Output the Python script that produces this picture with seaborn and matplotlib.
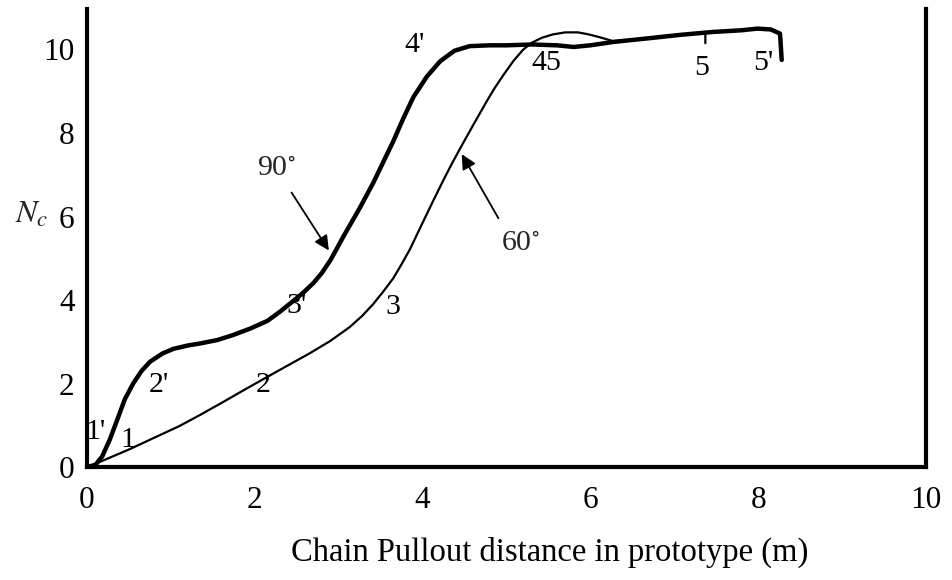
import matplotlib
matplotlib.use("Agg")
import matplotlib.pyplot as plt
import seaborn as sns
import pandas as pd

# --- data ---
x90 = [0.0, 0.1, 0.18, 0.27, 0.36, 0.45, 0.55, 0.65, 0.75, 0.9, 1.03, 1.2, 1.35, 1.55, 1.74, 1.95,
       2.15, 2.3, 2.46, 2.58, 2.7, 2.8, 2.9, 2.98, 3.05, 3.17, 3.25, 3.41, 3.53, 3.65, 3.77, 3.89,
       4.05, 4.21, 4.38, 4.56, 4.8, 5.0, 5.3, 5.6, 5.8, 6.0, 6.27, 6.7, 7.07, 7.46, 7.8, 7.99,
       8.15, 8.26, 8.28]
y90 = [0.0, 0.05, 0.25, 0.65, 1.13, 1.62, 2.0, 2.3, 2.52, 2.72, 2.83, 2.91, 2.96, 3.04, 3.16, 3.32,
       3.5, 3.72, 3.98, 4.18, 4.41, 4.65, 4.95, 5.24, 5.5, 5.92, 6.2, 6.8, 7.3, 7.8, 8.35, 8.86,
       9.35, 9.72, 9.97, 10.08, 10.1, 10.1, 10.12, 10.1, 10.06, 10.1, 10.18, 10.27, 10.35, 10.42,
       10.46, 10.5, 10.48, 10.38, 9.75]

x60 = [0.0, 0.15, 0.5, 0.8, 1.1, 1.35, 1.59, 1.85, 2.15, 2.4, 2.66, 2.9, 3.13, 3.28, 3.41, 3.53,
       3.65, 3.75, 3.85, 4.0, 4.12, 4.25, 4.35, 4.45, 4.6, 4.77, 4.86, 4.96, 5.08, 5.2, 5.3, 5.42,
       5.55, 5.7, 5.85, 5.96, 6.1, 6.27, 6.6, 7.0, 7.37, 7.37]
y60 = [0.0, 0.12, 0.42, 0.7, 0.98, 1.25, 1.52, 1.82, 2.16, 2.44, 2.73, 3.02, 3.35, 3.62, 3.9, 4.2,
       4.52, 4.86, 5.22, 5.85, 6.35, 6.88, 7.27, 7.64, 8.18, 8.78, 9.08, 9.38, 9.72, 10.0, 10.16, 10.28,
       10.36, 10.41, 10.41, 10.37, 10.3, 10.2, 10.25, 10.33, 10.42, 10.15]

xticks = [0, 2, 4, 6, 8, 10]
yticks = [0, 2, 4, 6, 8, 10]

point_labels = ["1'", "1", "2'", "2", "3'", "3", "4'", "45", "5", "5'"]
point_x = [0.1, 0.49, 0.86, 2.1, 2.5, 3.65, 3.91, 5.48, 7.33, 8.06]
point_y = [0.84, 0.65, 1.96, 1.96, 3.85, 3.83, 10.1, 9.67, 9.55, 9.67]

df90 = pd.DataFrame({"x": x90, "y": y90})
df60 = pd.DataFrame({"x": x60, "y": y60})

sns.set_style("white")
plt.rcParams["font.family"] = ["Liberation Serif", "DejaVu Serif"]
plt.rcParams["mathtext.fontset"] = "stix"

fig = plt.figure(figsize=(9.52, 5.80), dpi=100)
ax = fig.add_axes([0.0914, 0.1948, 0.8813, 0.7897])

sns.lineplot(data=df60, x="x", y="y", sort=False, estimator=None, color="black", lw=1.6, ax=ax)
sns.lineplot(data=df90, x="x", y="y", sort=False, estimator=None, color="black", lw=3.2, ax=ax)

ax.set_xlim(0, 10)
ax.set_ylim(0, 10.97)
ax.set_xticks(xticks)
ax.set_yticks(yticks)
ax.set_xticklabels([str(t) for t in xticks])
ax.set_yticklabels([str(t) for t in yticks])
ax.tick_params(axis="both", direction="out", length=6, width=2.5, labelsize=22.5, colors="black")
ax.tick_params(axis="x", pad=8)
ax.tick_params(axis="y", pad=3)

for s in ["left", "bottom", "right"]:
    ax.spines[s].set_visible(True)
    ax.spines[s].set_color("black")
    ax.spines[s].set_linewidth(3)
ax.spines["top"].set_visible(False)

ax.set_xlabel("Chain Pullout distance in prototype (m)", fontsize=23.5, color="black", va="top")
ax.xaxis.set_label_coords(0.551, -0.152)
ax.set_ylabel("")
ax.text(-0.066, 0.55, r"$N_c$", transform=ax.transAxes, fontsize=23, ha="center", va="center")

for lab, px, py in zip(point_labels, point_x, point_y):
    ax.text(px, py, lab, fontsize=21.5, ha="center", va="center", color="black")

ax.text(2.26, 7.16, r"90$^{\circ}$", fontsize=21.5, ha="center", va="center")
ax.annotate("", xy=(2.9, 5.13), xytext=(2.42, 6.63),
            arrowprops=dict(arrowstyle="-|>", color="black", lw=1.3, mutation_scale=22))
ax.text(5.16, 5.37, r"60$^{\circ}$", fontsize=21.5, ha="center", va="center")
ax.annotate("", xy=(4.45, 7.55), xytext=(4.92, 5.9),
            arrowprops=dict(arrowstyle="-|>", color="black", lw=1.3, mutation_scale=22))

fig.savefig("out.png", dpi=100, facecolor="white")
